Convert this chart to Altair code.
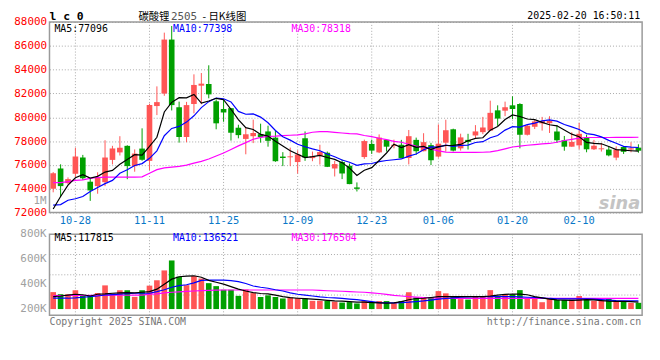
import altair as alt
import pandas as pd

# ---- data (80 daily candles, 10-23 .. 02-20) ----
opens = [74000,75700,74470,75250,76620,74590,74220,74550,76420,77050,
         77600,75900,77370,76340,80940,81990,86520,80840,78340,81110,
         82650,82790,81340,80690,80760,79120,78180,78410,78580,78810,
         78290,76700,76640,76240,78230,76570,76760,77020,75700,76240,
         75930,74110,76660,77760,77050,78100,77600,77690,76580,78100,
         77150,77660,76700,77870,78990,77390,78100,78470,78750,78880,
         80580,80550,81000,81110,78530,79200,79490,79500,78800,78070,
         77530,77640,78310,77310,77310,77290,76610,77500,77290,77450]
highs = [75400,76050,74950,77440,76840,74830,75380,78070,77600,78410,
         77650,77300,79070,81140,82590,87100,87660,81310,81290,83600,
         83710,84360,81500,81480,80780,79370,79140,79800,79460,79290,
         78880,77070,77450,77220,78810,77120,77690,77120,76340,76450,
         76120,74530,78120,78120,78560,78140,78120,78100,78930,78290,
         78660,77850,79400,79790,79040,78620,78610,79340,80030,81390,
         81000,81310,81750,81180,79380,79820,80030,80090,79350,78430,
         78740,79530,78530,78100,77840,77530,77560,77560,77900,77730]
lows = [73700,73300,74380,75000,74750,72980,73580,74220,76040,76790,
        74800,75430,76350,75570,80180,81800,80570,77870,77900,80330,
        81090,81590,78990,79620,78040,78230,76890,77830,77870,77530,
        76260,75900,75900,75280,76340,76310,76030,75820,75030,74810,
        74380,73770,76510,76920,76990,77120,77390,76560,76040,76850,
        77140,75990,76610,77110,77130,77200,77290,78190,78580,78860,
        79280,80090,79850,77390,78470,79010,78880,78680,77840,77190,
        77520,77310,77060,77250,77120,76720,76390,76920,77060,77020]
closes = [75300,74220,74810,76700,74890,73860,74950,76620,77380,77440,
          75900,76950,76430,81030,81270,86520,81020,78340,81020,82710,
          82820,81920,79490,80400,78700,78500,78570,78680,78340,78020,
          76310,76580,76720,76880,76620,76700,77080,75840,76070,75280,
          74390,73990,78000,77200,78290,77530,77690,76570,78410,77150,
          77910,76390,77780,78910,77200,78310,77930,78810,79140,80370,
          79890,80840,80690,78530,79290,79650,79680,79700,78070,77530,
          77930,78610,77310,77610,77390,76800,77290,77100,77390,77190]
ma5 = [72300,73350,74300,74920,75180,74900,75040,75400,75540,76050,
       76460,76860,76820,77550,78320,80440,81250,81640,81630,81920,
       81180,81360,81590,81470,80670,79800,79130,78970,78560,78420,
       77980,77590,77190,76900,76620,76700,76800,76620,76460,76190,
       75730,75110,75550,75770,76370,77000,77740,77460,77700,77470,
       77550,77290,77530,77630,77640,77720,78030,78230,78280,78910,
       79230,79810,80190,80060,79850,79800,79570,79370,79280,78930,
       78580,78370,77890,77800,77770,77540,77280,77240,77190,77150]
ma10 = [72620,72670,73030,73160,73350,73760,74110,74430,74700,75300,
        75600,75950,76110,76550,77180,78450,79060,79230,79590,80120,
        80810,81310,81610,81550,81290,80490,80250,80280,80010,79540,
        78890,78360,78080,77730,77520,77340,77190,76910,76680,76410,
        76220,75960,76090,76120,76280,76370,76430,76500,76740,76920,
        77270,77510,77490,77660,77550,77630,77660,77880,77950,78280,
        78470,78920,79210,79170,79380,79510,79690,79780,79670,79390,
        79190,78970,78630,78540,78350,78060,77820,77560,77500,77460]
ma30 = [74510,74520,74600,74700,74740,74870,74940,74970,74970,74970,
        74970,74980,75000,75300,75600,75750,75820,75880,75980,76150,
        76300,76500,76750,77000,77300,77600,77870,78150,78310,78400,
        78420,78460,78490,78520,78600,78740,78790,78790,78730,78680,
        78630,78600,78470,78370,78240,78120,77980,77900,77730,77590,
        77480,77320,77180,77080,77050,77050,77050,77050,77060,77100,
        77200,77350,77500,77580,77650,77700,77760,77800,77900,78050,
        78150,78250,78300,78300,78300,78300,78310,78310,78310,78320]
# volume as drawn on the panel's own (thousands) axis
volumes = [336,319,319,351,305,305,329,390,324,351,
           351,298,351,388,431,510,590,460,392,465,
           445,408,384,355,355,306,357,328,297,310,
           297,285,293,288,285,266,266,266,260,252,
           256,245,264,248,264,264,249,264,335,293,
           296,296,344,326,300,280,276,303,303,352,
           302,319,319,352,289,282,255,285,272,272,
           276,305,276,266,266,282,266,263,250,250]
vma5 = [300,305,312,319,315,305,319,322,327,330,
        332,330,335,340,360,400,440,459,465,467,
        455,430,415,400,380,360,345,332,325,322,
        312,300,292,287,283,280,275,270,266,264,
        260,256,255,252,250,248,250,260,275,285,
        287,293,300,300,300,300,300,300,300,305,
        312,318,320,320,315,300,290,280,274,272,
        270,272,275,273,268,264,262,261,260,256]
vma10 = [287,287,287,290,295,300,305,313,316,320,
         324,327,327,327,340,355,375,388,395,410,
         430,432,432,432,428,420,405,385,375,367,
         355,345,330,319,312,305,298,293,290,286,
         280,275,268,260,252,250,250,252,255,260,
         265,272,280,285,290,295,298,300,300,300,
         300,300,300,298,295,293,290,285,282,282,
         282,282,282,280,276,272,268,266,266,266]
vma30 = [309,309,309,309,309,310,310,310,311,311,
         311,312,312,320,322,330,335,338,342,345,
         348,350,352,353,353,353,353,353,353,353,
         353,353,353,353,353,353,350,347,345,343,
         340,337,335,330,325,318,310,305,300,296,
         293,290,288,286,286,286,286,286,286,286,
         286,286,286,286,286,286,286,286,286,286,
         286,286,286,286,286,286,286,286,286,286]
date_index = [3, 13, 23, 33, 43, 52, 62, 71]
date_labels = ["10-28", "11-11", "11-25", "12-09", "12-23", "01-06", "01-20", "02-10"]
price_ticks = [72000, 74000, 76000, 78000, 80000, 82000, 84000, 86000, 88000]
vol_ticks = [200, 400, 600, 800]
vol_tick_labels = ["200K", "400K", "600K", "800K"]

# ---- layout / style ----
MONO = "DejaVu Sans Mono"
RED, GREEN = "#FF5555", "#00A000"
GRID = "#A8A8A8"
FRAME = "#9A9A9A"
W, H = 600, 297
P_TOP, P_BOT = 0, 193
V_TOP, V_BOT = 215, 297

n = len(closes)
df = pd.DataFrame({"i": list(range(n)), "o": opens, "h": highs, "l": lows, "c": closes,
                   "v": volumes, "ma5": ma5, "ma10": ma10, "ma30": ma30,
                   "vma5": vma5, "vma10": vma10, "vma30": vma30})
df["dir"] = ["up" if c >= o else "down" for o, c in zip(opens, closes)]

xs = alt.Scale(domain=[0, n], nice=False, zero=False)
ps = alt.Scale(domain=[72000, 88000], range=[P_BOT, P_TOP], nice=False, zero=False)
vs = alt.Scale(domain=[150, 800], range=[V_BOT, V_TOP], nice=False, zero=False)
col = alt.Color("dir:N", scale=alt.Scale(domain=["up", "down"], range=[RED, GREEN]), legend=None)

base = alt.Chart(df).transform_calculate(
    xc="datum.i + 0.5", xl="datum.i + 0.12", xr="datum.i + 0.88")
X = alt.X("xc:Q", scale=xs, axis=None)

one = pd.DataFrame({"k": [0]})
dates = pd.DataFrame({"i": date_index, "lab": date_labels}).assign(xc=lambda d: d.i + 0.5)
vgrid_vals = pd.DataFrame({"g": [150 + 650 * k / 4 for k in (1, 2, 3)]})
vtick_df = pd.DataFrame({"t": vol_ticks, "lab": vol_tick_labels})


def txt(s, x, y, color="#000000", size=10, align="left", font=MONO, weight="normal",
        style="normal", baseline="middle"):
    return alt.Chart(one).mark_text(text=s, align=align, baseline=baseline, color=color,
                                    fontSize=size, font=font, fontWeight=weight,
                                    fontStyle=style).encode(x=alt.value(x), y=alt.value(y))


layers = []
# vertical dotted grid in both panels
for y0, y1 in ((P_TOP, P_BOT), (V_TOP, V_BOT)):
    layers.append(alt.Chart(dates).mark_rule(color=GRID, strokeDash=[1, 2], strokeWidth=1).encode(
        x=alt.X("xc:Q", scale=xs, axis=None), y=alt.value(y0), y2=alt.value(y1)))
# horizontal dotted grid in volume panel
layers.append(alt.Chart(vgrid_vals).mark_rule(color=GRID, strokeDash=[1, 2], strokeWidth=1).encode(
    y=alt.Y("g:Q", scale=vs, axis=None), x=alt.value(0), x2=alt.value(W)))
# panel frames
for y0, y1 in ((P_TOP, P_BOT), (V_TOP, V_BOT)):
    layers.append(alt.Chart(one).mark_rect(filled=False, stroke=FRAME, strokeWidth=1.5).encode(
        x=alt.value(0), x2=alt.value(W), y=alt.value(y0), y2=alt.value(y1)))

# volume bars + MAs
layers.append(base.mark_bar().encode(
    x=alt.X("xl:Q", scale=xs, axis=None), x2="xr:Q",
    y=alt.Y("v:Q", scale=vs, axis=None), y2=alt.datum(200), color=col))
for f, c in (("vma30", "#FF00FF"), ("vma10", "#0000FF"), ("vma5", "#000000")):
    layers.append(base.mark_line(color=c, strokeWidth=1.2).encode(
        x=X, y=alt.Y(f"{f}:Q", scale=vs, axis=None)))

# candles
price_axis = alt.Axis(values=price_ticks, format="d", labelColor="#FF0000", labelFont=MONO,
                      labelFontSize=11, ticks=False, domain=False, labelPadding=3,
                      grid=True, gridColor=GRID, gridDash=[1, 2], gridWidth=1, title=None)
layers.append(base.mark_rule(strokeWidth=1).encode(
    x=X, y=alt.Y("h:Q", scale=ps, axis=price_axis), y2="l:Q", color=col))
layers.append(base.mark_bar().encode(
    x=alt.X("xl:Q", scale=xs, axis=None), x2="xr:Q",
    y=alt.Y("o:Q", scale=ps, axis=None), y2="c:Q", color=col))
for f, c in (("ma30", "#FF00FF"), ("ma10", "#0000FF"), ("ma5", "#000000")):
    layers.append(base.mark_line(color=c, strokeWidth=1.2).encode(
        x=X, y=alt.Y(f"{f}:Q", scale=ps, axis=None)))

# date labels between the panels
layers.append(alt.Chart(dates).mark_text(font=MONO, fontSize=10.5, color="#0A78C8", baseline="middle").encode(
    x=alt.X("xc:Q", scale=xs, axis=None), y=alt.value(202), text="lab:N"))
# volume axis labels
layers.append(alt.Chart(vtick_df).mark_text(font=MONO, fontSize=11, color="#A0A0A0", align="right",
                                            baseline="middle").encode(
    x=alt.value(-3), y=alt.Y("t:Q", scale=vs, axis=None), text="lab:N"))

# texts
layers += [
    txt("l c 0", 0, -2, size=11.5, weight="bold", baseline="alphabetic"),
    txt("碳酸锂", 90, -2, size=10.5, font="Noto Sans CJK SC", baseline="alphabetic"),
    txt("2505", 123, -2, size=11, color="#555555", baseline="alphabetic"),
    txt("-  日K线图", 155, -2, size=10.5, font="Noto Sans CJK SC", baseline="alphabetic"),
    txt("2025-02-20 16:50:11", 598, -3, align="right", baseline="alphabetic"),
    txt("MA5:77096", 5, 7.5),
    txt("MA10:77398", 125, 7.5, color="#0000FF"),
    txt("MA30:78318", 245, 7.5, color="#FF00FF"),
    txt("1M", -3, 181, color="#A0A0A0", align="right", size=11),
    txt("MA5:117815", 5, 219),
    txt("MA10:136521", 125, 219, color="#0000FF"),
    txt("MA30:176504", 245, 219, color="#FF00FF"),
    txt("sina", 598, 184, color="#C4C4C4", size=18, align="right", font="DejaVu Sans",
        weight="bold", style="italic"),
    txt("Copyright 2025 SINA.COM", 0, 304, color="#777777"),
    txt("http://finance.sina.com.cn", 599, 304, color="#777777", align="right"),
]

chart = alt.layer(*layers).resolve_scale(y="independent").properties(
    width=W, height=H,
    autosize=alt.AutoSizeParams(type="none"),
    padding={"left": 42, "top": 12, "right": 10, "bottom": 30},
).configure_view(stroke=None)

chart.save("out.html", embed_options={"renderer": "svg", "actions": False})
